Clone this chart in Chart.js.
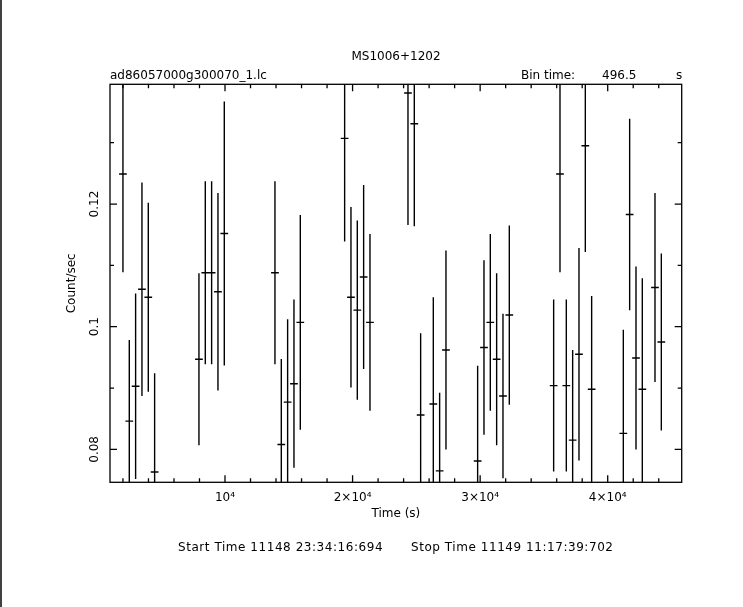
<!DOCTYPE html>
<html>
<head>
<meta charset="utf-8">
<script src="https://cdn.jsdelivr.net/npm/chart.js@4.4.1/dist/chart.umd.min.js"></script>
<style>
  html, body { margin: 0; padding: 0; background: #fff; }
  canvas { display: block; }
</style>
</head>
<body>
<canvas id="lc" width="743" height="607"></canvas>
<script>
// light curve MS1006+1202, bin time 496.5 s
var times = [2000, 2497, 2993, 3490, 3986, 4483, 7958, 8455, 8951, 9448, 9944,
  13916, 14413, 14909, 15406, 15902, 19378, 19874, 20371, 20867, 21364,
  24343, 24839, 25336, 26329, 26825, 27322, 29804, 30301, 30797, 31294, 31790, 32287,
  35762, 36259, 36755, 37252, 37748, 38245, 38741, 41224, 41720, 42217, 42713, 43706, 44203];
var rates = [0.1249, 0.0846, 0.0903, 0.1061, 0.1048, 0.0763, 0.0947, 0.1088, 0.1088, 0.1057, 0.1152,
  0.1088, 0.0808, 0.0877, 0.0907, 0.1007, 0.1307, 0.1048, 0.1027, 0.1081, 0.1007,
  0.1381, 0.1331, 0.0856, 0.0874, 0.0765, 0.0962, 0.0781, 0.0966, 0.1007, 0.0947, 0.0887, 0.1019,
  0.0904, 0.1249, 0.0904, 0.0815, 0.0955, 0.1295, 0.0898, 0.0826, 0.1183, 0.0949, 0.0898, 0.1064, 0.0975];
var errors = [0.0159, 0.0131, 0.0150, 0.0173, 0.0153, 0.0160, 0.0139, 0.0148, 0.0148, 0.0160, 0.0214,
  0.0148, 0.0138, 0.0134, 0.0136, 0.0174, 0.0167, 0.0146, 0.0145, 0.0149, 0.0143,
  0.0214, 0.0166, 0.0132, 0.0173, 0.0126, 0.0161, 0.0154, 0.0141, 0.0143, 0.0139, 0.0133, 0.0145,
  0.0139, 0.0159, 0.0139, 0.0146, 0.0172, 0.0172, 0.0151, 0.0168, 0.0155, 0.0148, 0.0180, 0.0153, 0.0143];
var binTime = 496.5;

var xMajor = [10000, 20000, 30000, 40000];
var xMinor = [2000, 4000, 6000, 8000, 12000, 14000, 16000, 18000, 22000, 24000, 26000, 28000,
  32000, 34000, 36000, 38000, 42000, 44000];
var yMajor = [0.08, 0.1, 0.12];
var yMinor = [0.09, 0.11, 0.13];
var xLabels = ['10\u2074', '2\u00d710\u2074', '3\u00d710\u2074', '4\u00d710\u2074'];
var yLabels = ['0.08', '0.1', '0.12'];

var FONT = '12px "DejaVu Sans"';

var points = [];
for (var i in times) {
  points.push({x: times[i], y: rates[i]});
}

// error bars + frame + inward ticks + header/footer text
var qdpPlugin = {
  id: 'qdp',
  afterDatasetsDraw: function(chart) {
    var ctx = chart.ctx;
    var a = chart.chartArea;
    var xs = chart.scales.x, ys = chart.scales.y;

    ctx.save();
    ctx.beginPath();
    ctx.rect(a.left, a.top, a.right - a.left, a.bottom - a.top);
    ctx.clip();
    ctx.strokeStyle = '#000';
    ctx.lineWidth = 1.4;
    ctx.lineCap = 'square';
    ctx.beginPath();
    for (var i = 0; i < times.length; i++) {
      var px = xs.getPixelForValue(times[i]);
      var py = ys.getPixelForValue(rates[i]);
      ctx.moveTo(px, ys.getPixelForValue(rates[i] + errors[i]));
      ctx.lineTo(px, ys.getPixelForValue(rates[i] - errors[i]));
      ctx.moveTo(xs.getPixelForValue(times[i] - binTime / 2), py);
      ctx.lineTo(xs.getPixelForValue(times[i] + binTime / 2), py);
    }
    ctx.stroke();
    ctx.restore();

    ctx.save();
    ctx.strokeStyle = '#000';
    ctx.lineWidth = 1.3;
    ctx.strokeRect(a.left, a.top, a.right - a.left, a.bottom - a.top);
    ctx.beginPath();
    function xt(v, len) {
      var p = xs.getPixelForValue(v);
      ctx.moveTo(p, a.bottom); ctx.lineTo(p, a.bottom - len);
      ctx.moveTo(p, a.top); ctx.lineTo(p, a.top + len);
    }
    function yt(v, len) {
      var p = ys.getPixelForValue(v);
      ctx.moveTo(a.left, p); ctx.lineTo(a.left + len, p);
      ctx.moveTo(a.right, p); ctx.lineTo(a.right - len, p);
    }
    xMajor.forEach(function(v) { xt(v, 7); });
    xMinor.forEach(function(v) { xt(v, 4); });
    yMajor.forEach(function(v) { yt(v, 7); });
    yMinor.forEach(function(v) { yt(v, 4); });
    ctx.stroke();

    // left page edge
    ctx.lineWidth = 1.5;
    ctx.beginPath();
    ctx.moveTo(1, 0); ctx.lineTo(1, 607);
    ctx.stroke();

    ctx.fillStyle = '#000';
    ctx.font = FONT;
    ctx.textBaseline = 'middle';
    ctx.textAlign = 'center';
    ctx.fillText('MS1006+1202', 396, 57);
    ctx.textAlign = 'left';
    ctx.fillText('ad86057000g300070_1.lc', 110, 76);
    ctx.fillText('Bin time:', 521, 76);
    ctx.fillText('496.5', 602, 76);
    ctx.fillText('s', 676, 76);
    ctx.letterSpacing = '0.55px';
    ctx.fillText('Start Time 11148 23:34:16:694', 178, 548);
    ctx.fillText('Stop Time 11149 11:17:39:702', 411, 548);
    ctx.restore();
  }
};

var ctx = document.getElementById('lc');
var lcChart = new Chart(ctx, {
  type: 'scatter',
  data: {
    datasets: [{
      label: 'Count/sec',
      data: points,
      pointRadius: 0,
      pointHoverRadius: 0,
      showLine: false
    }]
  },
  options: {
    responsive: false,
    maintainAspectRatio: false,
    animation: false,
    devicePixelRatio: 1,
    layout: { padding: { left: 0, top: 84.3, right: 61.3, bottom: 84.7 } },
    plugins: { legend: { display: false }, tooltip: { enabled: false } },
    scales: {
      x: {
        type: 'linear',
        min: 985,
        max: 45800,
        grid: { display: false, drawTicks: false },
        border: { display: false },
        afterFit: function(s) { s.height = 40; },
        afterBuildTicks: function(s) {
          s.ticks = xMajor.map(function(v) { return {value: v}; });
        },
        ticks: {
          autoSkip: false,
          maxRotation: 0,
          padding: 8,
          color: '#000',
          font: { family: 'DejaVu Sans', size: 12 },
          callback: function(v) { return xLabels[xMajor.indexOf(v)]; }
        },
        title: {
          display: true,
          text: 'Time (s)',
          color: '#000',
          font: { family: 'DejaVu Sans', size: 12 },
          padding: { top: 0, bottom: 1 }
        }
      },
      y: {
        type: 'linear',
        min: 0.07463,
        max: 0.13952,
        grid: { display: false, drawTicks: false },
        border: { display: false },
        afterFit: function(s) { s.width = 110; },
        afterBuildTicks: function(s) {
          s.ticks = yMajor.map(function(v) { return {value: v}; });
        },
        ticks: {
          autoSkip: false,
          minRotation: 90,
          maxRotation: 90,
          crossAlign: 'center',
          padding: 2,
          color: '#000',
          font: { family: 'DejaVu Sans', size: 12 },
          callback: function(v) { return yLabels[yMajor.indexOf(v)]; }
        },
        title: {
          display: true,
          text: 'Count/sec',
          color: '#000',
          font: { family: 'DejaVu Sans', size: 12 },
          padding: { top: 65, bottom: 0 }
        }
      }
    }
  },
  plugins: [qdpPlugin]
});
</script>
</body>
</html>
